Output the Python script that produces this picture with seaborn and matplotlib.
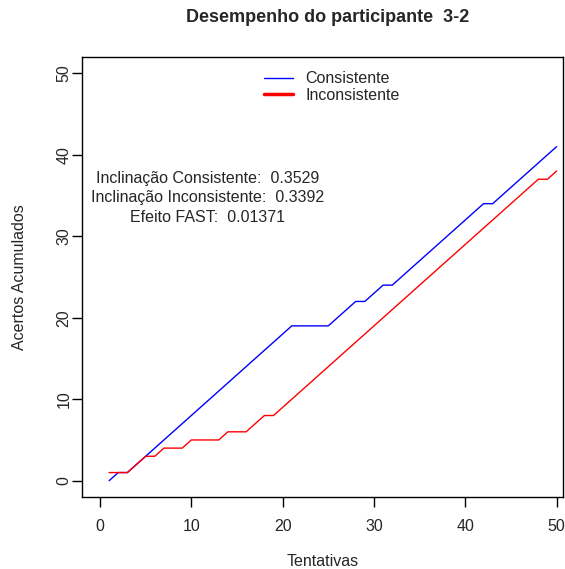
import matplotlib
matplotlib.use("Agg")
import matplotlib.pyplot as plt
from matplotlib.lines import Line2D
import seaborn as sns
import pandas as pd
import numpy as np

# dados
tentativas = list(range(1, 51))
consistente = [0, 1, 1, 2, 3, 4, 5, 6, 7, 8,
               9, 10, 11, 12, 13, 14, 15, 16, 17, 18,
               19, 19, 19, 19, 19, 20, 21, 22, 22, 23,
               24, 24, 25, 26, 27, 28, 29, 30, 31, 32,
               33, 34, 34, 35, 36, 37, 38, 39, 40, 41]
inconsistente = [1, 1, 1, 2, 3, 3, 4, 4, 4, 5,
                 5, 5, 5, 6, 6, 6, 7, 8, 8, 9,
                 10, 11, 12, 13, 14, 15, 16, 17, 18, 19,
                 20, 21, 22, 23, 24, 25, 26, 27, 28, 29,
                 30, 31, 32, 33, 34, 35, 36, 37, 37, 38]
grupos = ["Consistente", "Inconsistente"]
cores = ["blue", "red"]
texto = ["Inclinação Consistente:  0.3529",
         "Inclinação Inconsistente:  0.3392",
         "Efeito FAST:  0.01371"]

df = pd.DataFrame({
    "Tentativas": tentativas * 2,
    "Acertos": consistente + inconsistente,
    "Condicao": [grupos[0]] * 50 + [grupos[1]] * 50,
})

sns.set_style("white")
plt.rcParams['font.family'] = ['Liberation Sans', 'DejaVu Sans']

W, H = 565, 569
fig = plt.figure(figsize=(W / 100, H / 100), dpi=100)
ax = fig.add_axes([82 / W, 1 - 497 / H, (563 - 82) / W, (497 - 57) / H])

sns.lineplot(data=df, x="Tentativas", y="Acertos", hue="Condicao",
             palette=cores, linewidth=1.0, legend=False, ax=ax)

ax.set_xlim(-1.97, 50.7)
ax.set_ylim(-2, 52)
ax.set_xticks([0, 10, 20, 30, 40, 50])
ax.set_yticks([0, 10, 20, 30, 40, 50])
ax.tick_params(direction="out", length=7, width=1, color="black",
               labelsize=11.5, bottom=True, left=True)
ax.tick_params(axis="x", pad=9)
ax.tick_params(axis="y", pad=0.5)
for lab in ax.get_yticklabels():
    lab.set_rotation(90)
    lab.set_va("center")
for s in ax.spines.values():
    s.set_color("black")
    s.set_linewidth(1)

ax.set_xlabel("Tentativas", fontsize=11.5, labelpad=14)
ax.set_ylabel("Acertos Acumulados", fontsize=11.5, labelpad=21)

fig.text(328 / W, 1 - 18 / H, "Desempenho do participante  3-2",
         ha="center", va="center", fontsize=13, fontweight="bold")

handles = [Line2D([0], [0], color=cores[0], lw=1),
           Line2D([0], [0], color=cores[1], lw=2.5)]
ax.legend(handles, grupos, loc="upper center", bbox_to_anchor=(0.52, 1.0),
          frameon=False, fontsize=11.5, handlelength=1.8, handletextpad=0.8,
          labelspacing=0.1, borderaxespad=0.5)

for i, t in enumerate(texto):
    fig.text(208 / W, 1 - (178 + i * 19.5) / H, t, ha="center", va="center",
             fontsize=11.5)

fig.savefig("out.png", dpi=100)
